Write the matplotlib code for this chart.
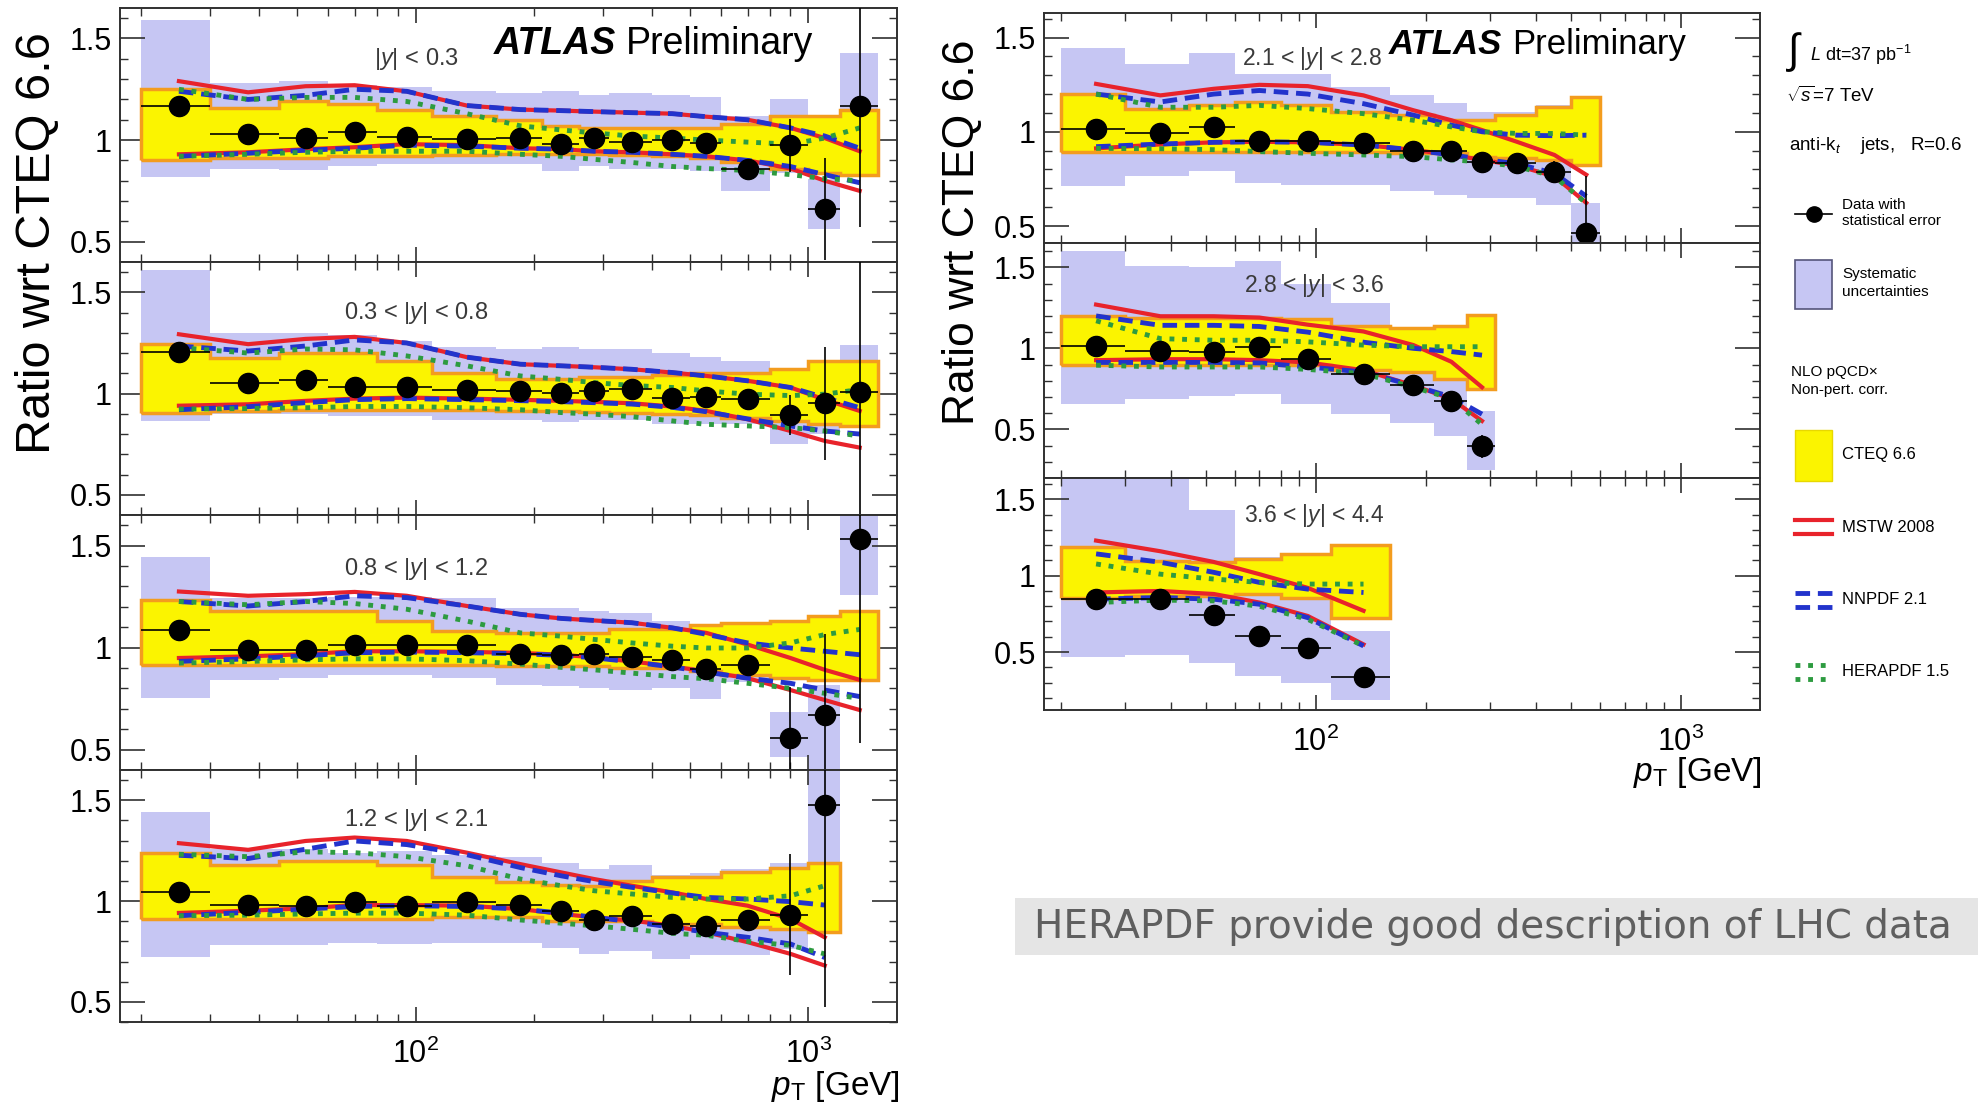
import numpy as np
import matplotlib
matplotlib.use("Agg")
import matplotlib.pyplot as plt
from matplotlib.patches import Rectangle
from matplotlib.ticker import FixedLocator, LogLocator, NullFormatter, FuncFormatter, MultipleLocator

plt.rcParams['font.family'] = ['Liberation Sans', 'DejaVu Sans']
plt.rcParams['mathtext.fontset'] = 'custom'
plt.rcParams['mathtext.rm'] = 'Liberation Sans'
plt.rcParams['mathtext.it'] = 'Liberation Sans:italic'
plt.rcParams['mathtext.bf'] = 'Liberation Sans:bold'

W, H = 1978, 1112

# jet pT bin edges [GeV]
pt_edges = [20, 30, 45, 60, 80, 110, 160, 210, 260, 310, 400, 500, 600, 800, 1000, 1200, 1500]

rap_labels = [r"|$y$| < 0.3", r"0.3 < |$y$| < 0.8", r"0.8 < |$y$| < 1.2", r"1.2 < |$y$| < 2.1",
              r"2.1 < |$y$| < 2.8", r"2.8 < |$y$| < 3.6", r"3.6 < |$y$| < 4.4"]
n_bins = [16, 16, 16, 15, 12, 9, 6]

# data / CTEQ 6.6
data_ratio = [
    [1.168, 1.03, 1.01, 1.04, 1.015, 1.005, 1.01, 0.98, 1.01, 0.99, 1.0, 0.985, 0.86, 0.975, 0.66, 1.17],
    [1.206, 1.051, 1.068, 1.033, 1.033, 1.016, 1.013, 1.005, 1.013, 1.021, 0.98, 0.985, 0.975, 0.893, 0.951, 1.008],
    [1.084, 0.99, 0.99, 1.012, 1.012, 1.012, 0.969, 0.965, 0.969, 0.952, 0.941, 0.896, 0.916, 0.557, 0.669, 1.534],
    [1.046, 0.98, 0.977, 0.997, 0.977, 0.993, 0.98, 0.952, 0.908, 0.928, 0.886, 0.878, 0.908, 0.931, 1.474],
    [1.014, 0.991, 1.026, 0.951, 0.951, 0.939, 0.898, 0.898, 0.839, 0.833, 0.786, 0.465],
    [1.017, 0.983, 0.979, 1.01, 0.933, 0.844, 0.771, 0.673, 0.396],
    [0.846, 0.85, 0.74, 0.604, 0.527, 0.336],
]
stat_err = [
    [0.01, 0.01, 0.01, 0.01, 0.01, 0.01, 0.01, 0.01, 0.01, 0.01, 0.01, 0.015, 0.03, 0.13, 0.25, 0.6],
    [0.01, 0.01, 0.01, 0.01, 0.01, 0.01, 0.01, 0.01, 0.01, 0.01, 0.01, 0.015, 0.03, 0.10, 0.28, 0.65],
    [0.01, 0.01, 0.01, 0.01, 0.01, 0.01, 0.01, 0.01, 0.01, 0.01, 0.01, 0.015, 0.03, 0.25, 0.40, 1.0],
    [0.01, 0.01, 0.01, 0.01, 0.01, 0.01, 0.01, 0.01, 0.01, 0.01, 0.01, 0.015, 0.03, 0.30, 1.0],
    [0.01, 0.01, 0.01, 0.01, 0.01, 0.01, 0.01, 0.01, 0.015, 0.02, 0.06, 0.30],
    [0.01, 0.01, 0.01, 0.01, 0.01, 0.015, 0.02, 0.03, 0.07],
    [0.01, 0.01, 0.015, 0.02, 0.03, 0.04],
]
sys_hi = [
    [1.59, 1.28, 1.29, 1.27, 1.26, 1.24, 1.23, 1.24, 1.22, 1.23, 1.22, 1.21, 1.12, 1.20, 0.81, 1.43],
    [1.61, 1.30, 1.30, 1.29, 1.26, 1.23, 1.22, 1.23, 1.22, 1.22, 1.20, 1.18, 1.16, 1.08, 1.13, 1.24],
    [1.446, 1.245, 1.245, 1.25, 1.25, 1.245, 1.196, 1.196, 1.18, 1.17, 1.13, 1.11, 1.12, 0.685, 0.817, 1.70],
    [1.44, 1.257, 1.26, 1.24, 1.25, 1.23, 1.216, 1.19, 1.158, 1.18, 1.13, 1.14, 1.158, 1.19, 1.70],
    [1.447, 1.36, 1.42, 1.307, 1.307, 1.237, 1.193, 1.15, 1.105, 1.105, 1.14, 0.62],
    [1.60, 1.51, 1.50, 1.54, 1.40, 1.28, 1.125, 1.10, 0.615],
    [1.70, 1.70, 1.43, 1.12, 1.10, 0.637],
]
sys_lo = [
    [0.82, 0.86, 0.855, 0.87, 0.88, 0.88, 0.88, 0.85, 0.87, 0.86, 0.86, 0.85, 0.75, 0.84, 0.56, 0.83],
    [0.865, 0.90, 0.90, 0.89, 0.89, 0.87, 0.87, 0.86, 0.87, 0.87, 0.85, 0.85, 0.85, 0.75, 0.80, 0.85],
    [0.755, 0.84, 0.85, 0.867, 0.867, 0.85, 0.817, 0.81, 0.80, 0.79, 0.80, 0.75, 0.83, 0.463, 0.35, 1.26],
    [0.72, 0.78, 0.78, 0.79, 0.785, 0.79, 0.79, 0.766, 0.738, 0.754, 0.713, 0.73, 0.73, 0.76, 1.0],
    [0.71, 0.763, 0.79, 0.728, 0.72, 0.72, 0.684, 0.667, 0.649, 0.649, 0.614, 0.40],
    [0.656, 0.688, 0.708, 0.72, 0.656, 0.594, 0.54, 0.458, 0.25],
    [0.47, 0.48, 0.43, 0.34, 0.297, 0.187],
]
cteq_hi = [
    [1.25, 1.16, 1.19, 1.18, 1.15, 1.12, 1.10, 1.07, 1.06, 1.06, 1.06, 1.06, 1.08, 1.12, 1.12, 1.15],
    [1.244, 1.178, 1.20, 1.20, 1.16, 1.10, 1.07, 1.07, 1.08, 1.08, 1.09, 1.10, 1.10, 1.12, 1.16, 1.16],
    [1.232, 1.18, 1.18, 1.18, 1.13, 1.08, 1.072, 1.072, 1.072, 1.09, 1.09, 1.11, 1.12, 1.13, 1.155, 1.18],
    [1.24, 1.18, 1.20, 1.20, 1.18, 1.117, 1.092, 1.08, 1.076, 1.10, 1.117, 1.117, 1.142, 1.166, 1.19],
    [1.20, 1.123, 1.14, 1.158, 1.14, 1.105, 1.088, 1.06, 1.065, 1.088, 1.13, 1.184],
    [1.198, 1.19, 1.19, 1.19, 1.18, 1.135, 1.125, 1.135, 1.208],
    [1.187, 1.099, 1.088, 1.11, 1.143, 1.202],
]
cteq_lo = [
    [0.90, 0.91, 0.91, 0.92, 0.92, 0.925, 0.93, 0.93, 0.93, 0.925, 0.92, 0.91, 0.89, 0.86, 0.84, 0.83],
    [0.903, 0.914, 0.92, 0.92, 0.92, 0.92, 0.915, 0.915, 0.91, 0.905, 0.90, 0.895, 0.88, 0.865, 0.85, 0.84],
    [0.916, 0.916, 0.916, 0.916, 0.916, 0.916, 0.908, 0.908, 0.908, 0.90, 0.90, 0.883, 0.867, 0.85, 0.84, 0.84],
    [0.91, 0.91, 0.91, 0.91, 0.91, 0.92, 0.92, 0.90, 0.90, 0.90, 0.886, 0.886, 0.87, 0.862, 0.845],
    [0.895, 0.895, 0.895, 0.895, 0.895, 0.895, 0.89, 0.885, 0.868, 0.86, 0.85, 0.825],
    [0.896, 0.896, 0.896, 0.896, 0.896, 0.865, 0.854, 0.81, 0.75],
    [0.857, 0.868, 0.868, 0.879, 0.857, 0.723],
]
mstw_hi = [
    [1.29, 1.235, 1.265, 1.27, 1.24, 1.17, 1.15, 1.145, 1.14, 1.135, 1.13, 1.115, 1.10, 1.06, 1.01, 0.945],
    [1.293, 1.244, 1.27, 1.28, 1.25, 1.18, 1.145, 1.137, 1.13, 1.12, 1.104, 1.087, 1.063, 1.03, 0.97, 0.914],
    [1.275, 1.254, 1.262, 1.273, 1.254, 1.204, 1.163, 1.143, 1.133, 1.122, 1.097, 1.072, 1.015, 0.949, 0.891, 0.842],
    [1.287, 1.254, 1.298, 1.315, 1.298, 1.24, 1.183, 1.142, 1.109, 1.076, 1.043, 1.01, 0.977, 0.911, 0.82],
    [1.254, 1.193, 1.228, 1.249, 1.242, 1.193, 1.114, 1.061, 1.009, 0.947, 0.877, 0.772],
    [1.27, 1.198, 1.198, 1.19, 1.146, 1.104, 1.02, 0.917, 0.76],
    [1.23, 1.16, 1.09, 1.01, 0.92, 0.77],
]
mstw_lo = [
    [0.93, 0.94, 0.955, 0.965, 0.98, 0.975, 0.96, 0.955, 0.945, 0.94, 0.93, 0.92, 0.90, 0.86, 0.80, 0.75],
    [0.94, 0.947, 0.964, 0.975, 0.98, 0.975, 0.969, 0.964, 0.959, 0.952, 0.936, 0.914, 0.873, 0.815, 0.766, 0.733],
    [0.949, 0.957, 0.968, 0.982, 0.982, 0.979, 0.974, 0.965, 0.952, 0.932, 0.908, 0.883, 0.85, 0.792, 0.743, 0.694],
    [0.941, 0.952, 0.964, 0.98, 0.98, 0.977, 0.96, 0.936, 0.919, 0.903, 0.878, 0.845, 0.796, 0.738, 0.68],
    [0.912, 0.933, 0.944, 0.947, 0.944, 0.93, 0.904, 0.877, 0.851, 0.821, 0.763, 0.623],
    [0.927, 0.933, 0.933, 0.927, 0.913, 0.865, 0.771, 0.688, 0.552],
    [0.89, 0.90, 0.88, 0.824, 0.736, 0.55],
]
nnpdf_hi = [
    [1.24, 1.20, 1.22, 1.25, 1.24, 1.17, 1.15, 1.145, 1.14, 1.135, 1.13, 1.115, 1.10, 1.06, 1.02, 0.96],
    [1.235, 1.21, 1.235, 1.265, 1.25, 1.18, 1.145, 1.137, 1.13, 1.12, 1.104, 1.087, 1.063, 1.03, 0.98, 0.93],
    [1.226, 1.204, 1.226, 1.254, 1.245, 1.204, 1.163, 1.143, 1.133, 1.122, 1.097, 1.065, 1.023, 0.998, 0.982, 0.965],
    [1.227, 1.211, 1.257, 1.298, 1.28, 1.23, 1.166, 1.125, 1.096, 1.068, 1.04, 1.018, 1.01, 0.997, 0.98],
    [1.20, 1.158, 1.20, 1.219, 1.20, 1.149, 1.088, 1.035, 1.0, 0.982, 0.979, 0.982],
    [1.20, 1.142, 1.142, 1.135, 1.10, 1.038, 1.0, 0.98, 0.958],
    [1.143, 1.088, 1.022, 0.956, 0.912, 0.89],
]
nnpdf_lo = [
    [0.92, 0.935, 0.95, 0.96, 0.975, 0.97, 0.96, 0.955, 0.945, 0.94, 0.93, 0.92, 0.90, 0.87, 0.83, 0.79],
    [0.92, 0.935, 0.955, 0.97, 0.975, 0.97, 0.965, 0.96, 0.955, 0.948, 0.932, 0.91, 0.875, 0.84, 0.815, 0.80],
    [0.932, 0.945, 0.96, 0.975, 0.978, 0.975, 0.97, 0.962, 0.95, 0.93, 0.905, 0.88, 0.85, 0.825, 0.792, 0.76],
    [0.927, 0.944, 0.96, 0.973, 0.977, 0.973, 0.96, 0.94, 0.919, 0.898, 0.87, 0.845, 0.82, 0.787, 0.72],
    [0.921, 0.935, 0.944, 0.947, 0.944, 0.93, 0.904, 0.877, 0.855, 0.83, 0.78, 0.658],
    [0.913, 0.913, 0.913, 0.91, 0.885, 0.854, 0.77, 0.70, 0.594],
    [0.846, 0.857, 0.846, 0.813, 0.725, 0.54],
]
hera_hi = [
    [1.25, 1.20, 1.21, 1.21, 1.19, 1.13, 1.07, 1.05, 1.035, 1.02, 1.01, 1.0, 0.99, 0.98, 1.01, 1.06],
    [1.227, 1.20, 1.22, 1.216, 1.186, 1.137, 1.087, 1.07, 1.054, 1.04, 1.03, 1.013, 0.997, 0.99, 0.997, 1.02],
    [1.226, 1.21, 1.226, 1.216, 1.188, 1.13, 1.072, 1.056, 1.04, 1.023, 1.007, 0.998, 0.998, 1.023, 1.064, 1.089],
    [1.232, 1.22, 1.244, 1.24, 1.22, 1.175, 1.109, 1.076, 1.051, 1.035, 1.018, 1.01, 1.01, 1.026, 1.076],
    [1.20, 1.13, 1.13, 1.14, 1.123, 1.096, 1.061, 1.026, 1.0, 0.991, 0.991, 0.982],
    [1.17, 1.06, 1.05, 1.05, 1.04, 1.02, 1.01, 1.01, 1.01],
    [1.077, 1.01, 0.978, 0.956, 0.945, 0.945],
]
hera_lo = [
    [0.92, 0.93, 0.94, 0.945, 0.945, 0.945, 0.93, 0.92, 0.905, 0.89, 0.87, 0.86, 0.85, 0.83, 0.81, 0.80],
    [0.923, 0.926, 0.93, 0.936, 0.936, 0.93, 0.92, 0.906, 0.898, 0.886, 0.865, 0.848, 0.84, 0.832, 0.815, 0.79],
    [0.924, 0.932, 0.94, 0.945, 0.945, 0.936, 0.919, 0.903, 0.891, 0.875, 0.858, 0.847, 0.825, 0.80, 0.776, 0.751],
    [0.927, 0.93, 0.936, 0.94, 0.94, 0.93, 0.906, 0.89, 0.877, 0.86, 0.84, 0.83, 0.80, 0.78, 0.738],
    [0.912, 0.91, 0.905, 0.895, 0.886, 0.877, 0.868, 0.851, 0.84, 0.816, 0.763, 0.62],
    [0.896, 0.885, 0.885, 0.885, 0.87, 0.844, 0.76, 0.69, 0.53],
    [0.824, 0.84, 0.835, 0.80, 0.714, 0.54],
]

SYS = '#c6c6f3'
YELLOW = '#fbf400'
ORANGE = '#f39c1e'
RED = '#e8232b'
BLUE = '#2233cc'
GREEN = '#2d9b40'
FRAME = '#303030'

# panel boxes in pixels (x0, y0, x1, y1), top-left origin
panel_px = [(120, 8, 897, 262), (120, 262, 897, 515), (120, 515, 897, 770), (120, 770, 897, 1022),
            (1044, 13, 1760, 243), (1044, 243, 1760, 478), (1044, 478, 1760, 710)]
ylims = [(0.4, 1.65), (0.4, 1.65), (0.4, 1.65), (0.4, 1.65), (0.41, 1.63), (0.2, 1.65), (0.12, 1.64)]
label_pos = [(0.381, 0.80), (0.381, 0.80), (0.381, 0.79), (0.381, 0.80), (0.374, 0.80), (0.377, 0.82), (0.377, 0.84)]

fig = plt.figure(figsize=(W / 100, H / 100), dpi=100)
fig.patch.set_facecolor('white')


def make_axes(box):
    x0, y0, x1, y1 = box
    return fig.add_axes([x0 / W, 1 - y1 / H, (x1 - x0) / W, (y1 - y0) / H])


def style_axes(ax, xlim, ylim, bottom):
    ax.set_xscale('log')
    ax.set_xlim(*xlim)
    ax.set_ylim(*ylim)
    ax.xaxis.set_major_locator(FixedLocator([100, 1000]))
    ax.xaxis.set_minor_locator(LogLocator(base=10, subs=np.arange(2, 10)))
    ax.xaxis.set_minor_formatter(NullFormatter())
    ax.xaxis.set_major_formatter(FuncFormatter(lambda v, p: r"$10^{%d}$" % round(np.log10(v))))
    ax.yaxis.set_major_locator(MultipleLocator(0.5))
    ax.yaxis.set_minor_locator(MultipleLocator(0.1))
    ax.yaxis.set_major_formatter(FuncFormatter(lambda v, p: f"{v:g}"))
    ax.tick_params(which='both', direction='in', top=True, right=True, colors=FRAME, labelcolor='black')
    ax.tick_params(axis='y', which='major', length=18, width=1.2, labelsize=22, pad=6)
    ax.tick_params(axis='y', which='minor', length=6, width=1.0)
    ax.tick_params(axis='x', which='major', length=11, width=1.2, labelsize=22, pad=12, labelbottom=bottom)
    ax.tick_params(axis='x', which='minor', length=6, width=1.0)
    for s in ax.spines.values():
        s.set_color(FRAME)
        s.set_linewidth(1.4)


axes = []
for i in range(7):
    ax = make_axes(panel_px[i])
    axes.append(ax)
    n = n_bins[i]
    edges = np.array(pt_edges[:n + 1], dtype=float)
    centers = 0.5 * (edges[:-1] + edges[1:])

    ax.stairs(sys_hi[i], edges, baseline=sys_lo[i], fill=True, color=SYS, lw=0, zorder=1)
    ax.stairs(cteq_hi[i], edges, baseline=cteq_lo[i], fill=True, color=YELLOW, lw=0, zorder=2)
    ax.stairs(cteq_hi[i], edges, baseline=cteq_lo[i], fill=False, color=ORANGE, lw=2.5, zorder=2.1)

    for curve in (mstw_hi[i], mstw_lo[i]):
        ax.plot(centers, curve, color=RED, lw=3, zorder=3)
    for curve in (nnpdf_hi[i], nnpdf_lo[i]):
        ax.plot(centers, curve, color=BLUE, lw=3.5, ls=(0, (3, 1.6)), zorder=3.5)
    for curve in (hera_hi[i], hera_lo[i]):
        ax.plot(centers, curve, color=GREEN, lw=3.5, ls=(0, (1, 1.6)), zorder=4)

    xerr = [centers - edges[:-1], edges[1:] - centers]
    ax.errorbar(centers, data_ratio[i], xerr=xerr, yerr=stat_err[i], fmt='o', color='black',
                ms=14.5, elinewidth=1.2, capsize=0, zorder=5)

    fs = 17 if i < 4 else 16.5
    ax.text(label_pos[i][0], label_pos[i][1], rap_labels[i], transform=ax.transAxes,
            ha='center', va='center', fontsize=fs, color='#3a3a3a')

    left_side = i < 4
    xlim = (17.7, 1680) if left_side else (18, 1645)
    style_axes(ax, xlim, ylims[i], bottom=(i == 3 or i == 6))

# ATLAS Preliminary
for ax, pos, fs in ((axes[0], (0.481, 0.858), 27), (axes[4], (0.482, 0.865), 25)):
    atl = ax.text(pos[0], pos[1], "ATLAS", transform=ax.transAxes, fontsize=fs,
                  fontweight='bold', fontstyle='italic', va='center', zorder=6)
    ax.annotate("Preliminary", xy=(1, 0.5), xycoords=atl, xytext=(7, 0), textcoords='offset points',
                fontsize=fs, va='center', zorder=6)

# overlay in pixel coordinates for labels and legend
ov = fig.add_axes([0, 0, 1, 1])
ov.set_xlim(0, W)
ov.set_ylim(H, 0)
ov.axis('off')
ov.patch.set_alpha(0)

ov.text(38, 243, "Ratio wrt CTEQ 6.6", rotation=90, fontsize=35, ha='center', va='center')
ov.text(963, 232, "Ratio wrt CTEQ 6.6", rotation=90, fontsize=32, ha='center', va='center')
ov.text(900, 1087, r"$p_{\rm T}$ [GeV]", fontsize=24, ha='right', va='center')
ov.text(1762, 772, r"$p_{\rm T}$ [GeV]", fontsize=24, ha='right', va='center')

# legend block
ov.text(1788, 52, "∫", fontsize=30, ha='left', va='center')
ov.text(1810, 55, r"$L$ dt=37 pb$^{-1}$", fontsize=13, ha='left', va='center')
ov.text(1786, 96, r"$\sqrt{s}$=7 TeV", fontsize=13.5, ha='left', va='center')
ov.text(1789, 146, r"anti-k$_t$    jets,   R=0.6", fontsize=13.5, ha='left', va='center')

ov.plot([1795, 1832], [214, 214], color='black', lw=1.2)
ov.plot([1813.5], [214], 'o', color='black', ms=11)
ov.text(1842, 213, "Data with\nstatistical error", fontsize=11, ha='left', va='center', linespacing=1.1)

ov.add_patch(Rectangle((1795, 260), 37, 49, facecolor=SYS, edgecolor='#55557a', lw=1.2))
ov.text(1842, 283, "Systematic\nuncertainties", fontsize=11, ha='left', va='center', linespacing=1.3)

ov.text(1791, 381, "NLO pQCD×\nNon-pert. corr.", fontsize=11, ha='left', va='center', linespacing=1.3)

ov.add_patch(Rectangle((1795, 430), 37, 51, facecolor=YELLOW, edgecolor='#e8d800', lw=1))
ov.text(1842, 455, "CTEQ 6.6", fontsize=12, ha='left', va='center')

for yy in (520, 534):
    ov.plot([1795, 1832], [yy, yy], color=RED, lw=3)
ov.text(1842, 527, "MSTW 2008", fontsize=12, ha='left', va='center')
for yy in (593, 607):
    ov.plot([1795, 1832], [yy, yy], color=BLUE, lw=3.5, ls=(0, (3, 1.6)))
ov.text(1842, 600, "NNPDF 2.1", fontsize=12, ha='left', va='center')
for yy in (665, 679):
    ov.plot([1795, 1832], [yy, yy], color=GREEN, lw=3.5, ls=(0, (1, 1.6)))
ov.text(1842, 672, "HERAPDF 1.5", fontsize=12, ha='left', va='center')

# comment box
ov.add_patch(Rectangle((1015, 898), W - 1015, 57, facecolor='#e5e5e5', edgecolor='none'))
ov.text(1034, 927, "HERAPDF provide good description of LHC data", fontsize=28,
        family='DejaVu Sans', color='#5f5f5f', ha='left', va='center')

fig.savefig("out.png", dpi=100)
